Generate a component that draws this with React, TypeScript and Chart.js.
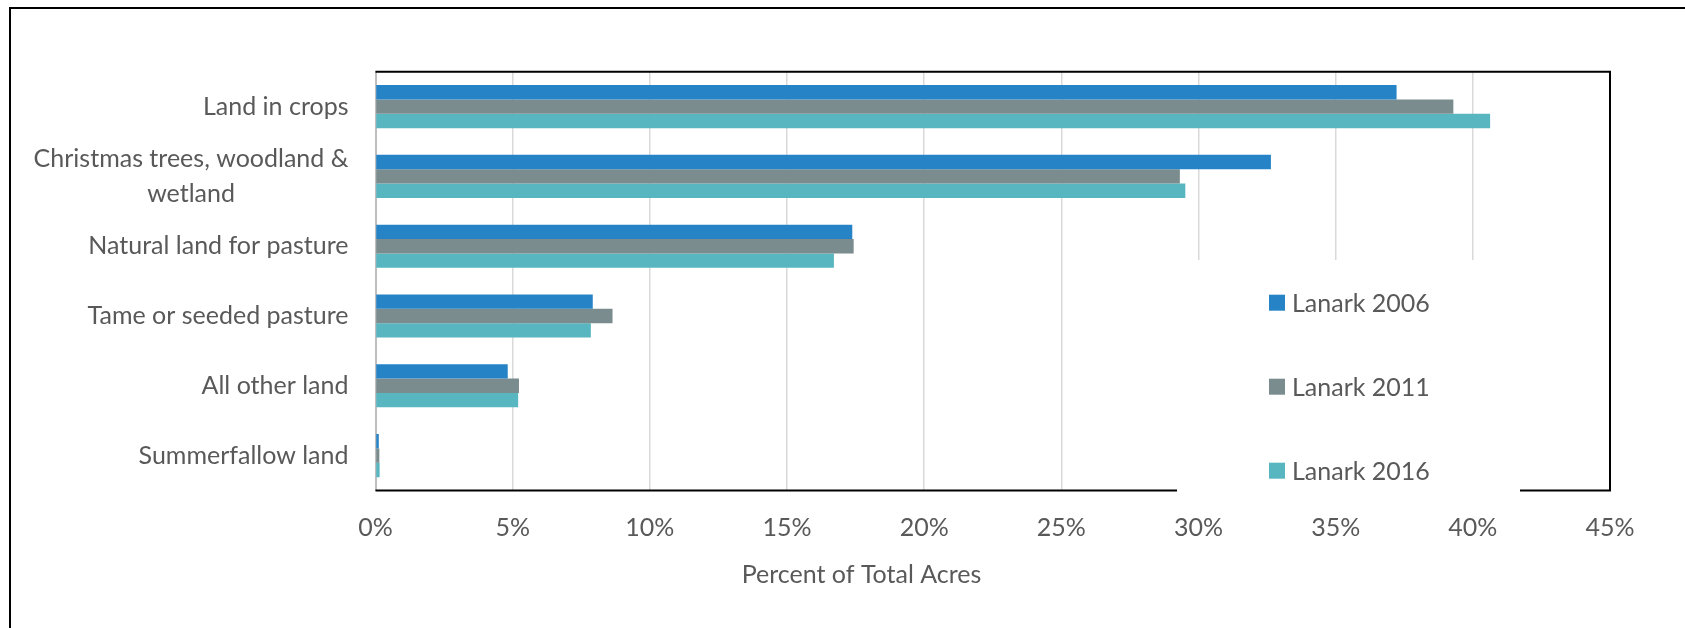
import React, { useEffect, useRef } from 'react';
import { Chart, registerables } from 'chart.js';

Chart.register(...registerables);

// ---- data ----
const categories: string[][] = [
  ['Land in crops'],
  ['Christmas trees, woodland &', 'wetland'],
  ['Natural land for pasture'],
  ['Tame or seeded pasture'],
  ['All other land'],
  ['Summerfallow land'],
];
const seriesNames = ['Lanark 2006', 'Lanark 2011', 'Lanark 2016'];
const lanark2006 = [37.22, 32.64, 17.38, 7.92, 4.82, 0.12];
const lanark2011 = [39.29, 29.32, 17.43, 8.64, 5.23, 0.14];
const lanark2016 = [40.63, 29.52, 16.71, 7.85, 5.2, 0.15];
const seriesColors = ['#2683c6', '#7a8c8e', '#58b6c0'];
const xMin = 0;
const xMax = 45;
const xStep = 5;
const axisTitle = 'Percent of Total Acres';

const FONT_FAMILY = 'Lato';
const FONT_SIZE = 25;
const TEXT_COLOR = '#595959';
const W = 1685;
const H = 628;

const decorPlugin = {
  id: 'decor',
  beforeDraw(chart: any) {
    const ctx = chart.ctx;
    ctx.save();
    ctx.fillStyle = '#ffffff';
    ctx.fillRect(0, 0, W, H);
    // outer frame (extends past the picture on right and bottom)
    ctx.strokeStyle = '#000000';
    ctx.lineWidth = 2;
    ctx.beginPath();
    ctx.moveTo(10, H + 10);
    ctx.lineTo(10, 8);
    ctx.lineTo(W + 10, 8);
    ctx.stroke();
    ctx.restore();
  },
  afterDraw(chart: any) {
    const ctx = chart.ctx;
    const a = chart.chartArea;
    const yScale = chart.scales.y;
    ctx.save();
    // plot frame: top, right, bottom (black)
    ctx.strokeStyle = '#000000';
    ctx.lineWidth = 2;
    ctx.beginPath();
    ctx.moveTo(a.left, a.top);
    ctx.lineTo(a.right, a.top);
    ctx.lineTo(a.right, a.bottom);
    ctx.lineTo(a.left, a.bottom);
    ctx.stroke();

    // category labels
    ctx.font = `${FONT_SIZE}px ${FONT_FAMILY}`;
    ctx.fillStyle = TEXT_COLOR;
    ctx.textBaseline = 'middle';
    ctx.textAlign = 'center';
    const labels = chart.data.labels as string[][];
    labels.forEach((lab, i) => {
      const lines = Array.isArray(lab) ? lab : [lab];
      const cy = yScale.getPixelForValue(i);
      const maxW = Math.max(...lines.map((l) => ctx.measureText(l).width));
      const cx = a.left - 27 - maxW / 2;
      lines.forEach((l, j) => {
        ctx.fillText(l, cx, cy + (j - (lines.length - 1) / 2) * 35);
      });
    });

    // legend box
    const lx0 = 1177;
    const lx1 = 1520;
    const ly0 = 260;
    const ly1 = 500;
    ctx.fillStyle = '#ffffff';
    ctx.fillRect(lx0, ly0, lx1 - lx0, ly1 - ly0);
    const rows = [302.7, 386.7, 470.7];
    chart.data.datasets.forEach((ds: any, i: number) => {
      ctx.fillStyle = ds.backgroundColor;
      ctx.fillRect(1269, rows[i] - 8, 16, 16);
      ctx.fillStyle = TEXT_COLOR;
      ctx.textAlign = 'left';
      ctx.fillText(ds.label, 1292, rows[i] + 1);
    });

    // axis title
    ctx.textAlign = 'center';
    ctx.fillStyle = TEXT_COLOR;
    ctx.fillText(axisTitle, 861.5, 575);
    ctx.restore();
  },
};

export default function App() {
  const canvasRef = useRef<HTMLCanvasElement | null>(null);

  useEffect(() => {
    let chart: Chart | null = null;
    let cancelled = false;
    const make = () => {
      if (cancelled || !canvasRef.current) return;
      Chart.defaults.font.family = FONT_FAMILY;
      const values = [lanark2006, lanark2011, lanark2016];
      chart = new Chart(canvasRef.current, {
        type: 'bar',
        data: {
          labels: categories as any,
          datasets: seriesNames.map((name, i) => ({
            label: name,
            data: values[i],
            backgroundColor: seriesColors[i],
            borderWidth: 0,
            categoryPercentage: 0.617,
            barPercentage: 1,
          })),
        },
        options: {
          indexAxis: 'y',
          animation: false,
          responsive: false,
          events: [],
          layout: { padding: { left: 375.5, top: 71.7, right: 75, bottom: 63.5 } },
          plugins: {
            legend: { display: false },
            title: { display: false },
            tooltip: { enabled: false },
          },
          scales: {
            x: {
              type: 'linear',
              min: xMin,
              max: xMax,
              ticks: {
                stepSize: xStep,
                callback: (v: any) => `${v}%`,
                color: TEXT_COLOR,
                font: { size: FONT_SIZE, family: FONT_FAMILY },
                padding: 22,
                maxRotation: 0,
              },
              grid: {
                color: (c: any) => (c.tick && c.tick.value === 0 ? '#bfbfbf' : '#d9d9d9'),
                lineWidth: 1.5,
                drawTicks: false,
              },
              border: { display: false },
            },
            y: {
              type: 'category',
              ticks: { display: false },
              grid: { display: false, drawTicks: false },
              border: { display: true, color: '#bfbfbf', width: 2 },
            },
          },
        },
        plugins: [decorPlugin],
      });
    };
    const fl = (document as any).fonts;
    if (fl && fl.load) {
      fl.load(`${FONT_SIZE}px ${FONT_FAMILY}`).then(make, make);
    } else {
      make();
    }
    return () => {
      cancelled = true;
      if (chart) chart.destroy();
    };
  }, []);

  return (
    <div style={{ position: 'absolute', left: 0, top: 0, width: W, height: H, background: '#fff' }}>
      <canvas ref={canvasRef} width={W} height={H} style={{ display: 'block', width: W, height: H }} />
    </div>
  );
}
